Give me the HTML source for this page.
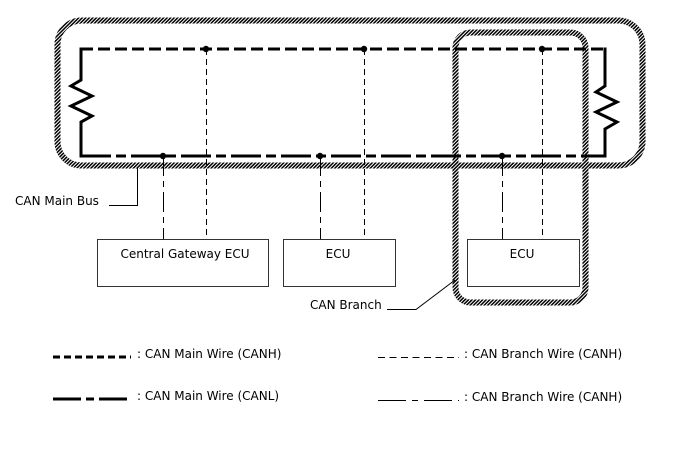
<!DOCTYPE html>
<html><head><meta charset="utf-8"><style>
html,body{margin:0;padding:0;background:#fff;}
svg{display:block;}
text{font-family:"DejaVu Sans","Liberation Sans",sans-serif;font-size:12px;fill:#000;}
</style></head><body>
<svg width="688" height="463" viewBox="0 0 688 463" xmlns="http://www.w3.org/2000/svg">
<defs>
<pattern id="h" width="2.5" height="2.5" patternUnits="userSpaceOnUse" patternTransform="rotate(45)">
<rect width="2.5" height="2.5" fill="#fff"/><rect width="1.5" height="2.5" fill="#000"/>
</pattern>
</defs>
<rect x="57.5" y="20.5" width="585" height="145" rx="24" fill="none" stroke="url(#h)" stroke-width="6"/>
<rect x="455.5" y="32.5" width="130" height="270" rx="15" fill="none" stroke="url(#h)" stroke-width="6"/>
<path d="M81 49 H605" fill="none" stroke="#000" stroke-width="3" stroke-dasharray="12 5"/>
<path d="M81 47.5 V78 M605 47.5 V82" stroke="#000" stroke-width="3"/>
<polyline points="81,76 81,80 71,86 92,96 71,106 92,116 81,122 81,157.5" fill="none" stroke="#000" stroke-width="3"/>
<polyline points="605,80 605,86 596,92 617,102 596,112 617,122 605,129 605,157.5" fill="none" stroke="#000" stroke-width="3"/>
<path d="M81 156 H605" fill="none" stroke="#000" stroke-width="3" stroke-dasharray="30 5 10 5"/>
<g stroke="#000" stroke-width="1" stroke-dasharray="6 4" fill="none">
<path d="M206.5 49 V239"/><path d="M364.5 49 V239"/><path d="M542.5 49 V239"/>
</g>
<g stroke="#000" stroke-width="1" stroke-dasharray="20 5 6 5" fill="none">
<path d="M163.5 156 V239"/><path d="M320.5 156 V239"/><path d="M502.5 156 V239"/>
</g>
<g fill="#000">
<circle cx="206" cy="49" r="3.2"/><circle cx="364" cy="49" r="3.2"/><circle cx="542" cy="49" r="3.2"/>
<circle cx="163" cy="156" r="3.2"/><circle cx="320" cy="156" r="3.2"/><circle cx="502" cy="156" r="3.2"/>
</g>
<g fill="#fff" stroke="#333" stroke-width="1">
<rect x="97.5" y="239.5" width="171" height="47"/>
<rect x="283.5" y="239.5" width="112" height="47"/>
<rect x="467.5" y="239.5" width="112" height="47"/>
</g>
<text x="185" y="258" text-anchor="middle">Central Gateway ECU</text>
<text x="338" y="258" text-anchor="middle">ECU</text>
<text x="522" y="258" text-anchor="middle">ECU</text>
<path d="M109 205.5 H137.5 V168" fill="none" stroke="#000" stroke-width="1"/>
<text x="15" y="205">CAN Main Bus</text>
<path d="M387 309.5 H416 L455 280" fill="none" stroke="#000" stroke-width="1"/>
<text x="310" y="309">CAN Branch</text>
<path d="M53 357 H131" stroke="#000" stroke-width="3" stroke-dasharray="7 4"/>
<text x="137" y="358">: CAN Main Wire (CANH)</text>
<path d="M53 399 H132" stroke="#000" stroke-width="3" stroke-dasharray="28 5 8 5"/>
<text x="137" y="400">: CAN Main Wire (CANL)</text>
<path d="M378 357.5 H459" stroke="#000" stroke-width="1" stroke-dasharray="7 4.5"/>
<text x="464" y="358">: CAN Branch Wire (CANH)</text>
<path d="M378 400.5 H459" stroke="#000" stroke-width="1" stroke-dasharray="28 6 6 6"/>
<text x="464" y="401">: CAN Branch Wire (CANH)</text>
</svg>
</body></html>
